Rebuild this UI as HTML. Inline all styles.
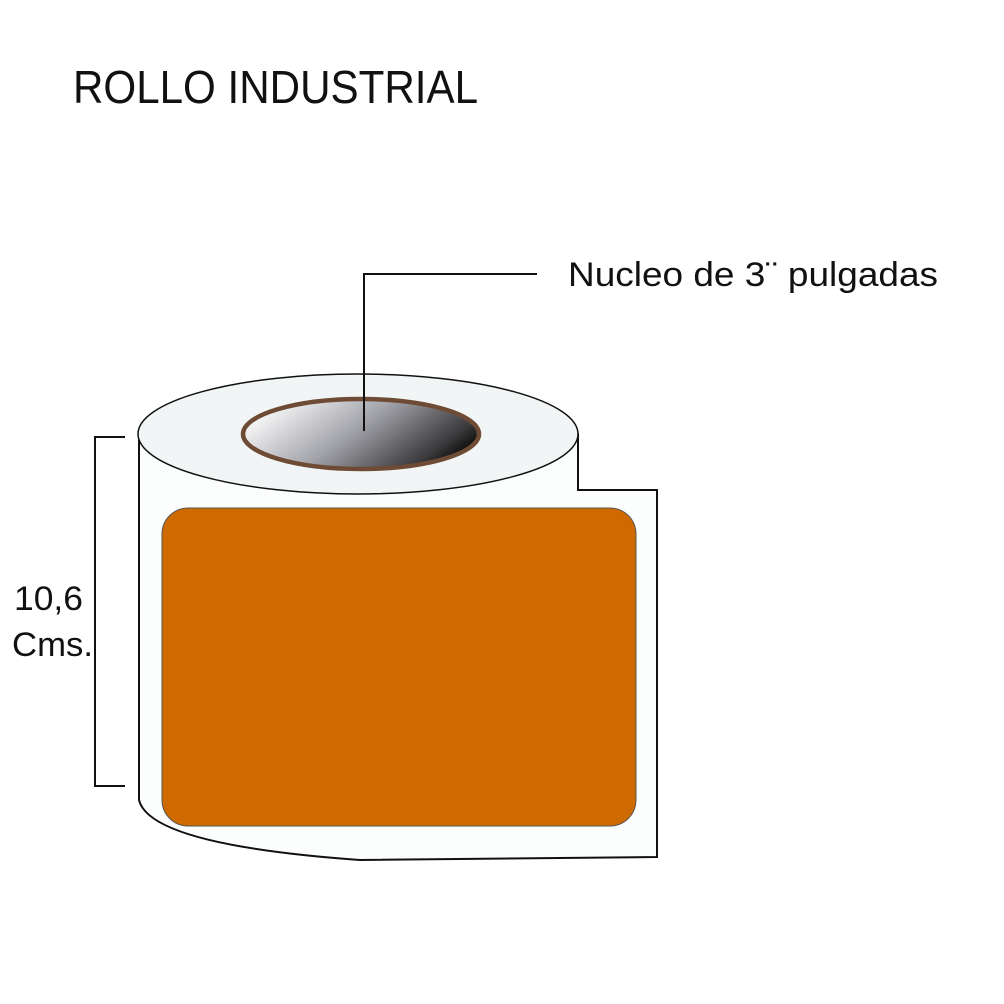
<!DOCTYPE html>
<html><head><meta charset="utf-8"><style>
html,body{margin:0;padding:0;background:#fff;}
svg{display:block;}
text{font-family:"Liberation Sans",sans-serif;fill:#111;}
</style></head><body>
<svg width="1004" height="1004" viewBox="0 0 1004 1004" xmlns="http://www.w3.org/2000/svg">
<defs>
<linearGradient id="g" x1="0" y1="0.3" x2="1" y2="0.7">
<stop offset="0" stop-color="#ffffff"/>
<stop offset="0.45" stop-color="#a3a4aa"/>
<stop offset="0.85" stop-color="#3a3a3c"/>
<stop offset="1" stop-color="#000"/>
</linearGradient>
</defs>
<text x="73" y="103" font-size="46" textLength="405" lengthAdjust="spacingAndGlyphs">ROLLO INDUSTRIAL</text>
<!-- body -->
<path d="M139 434 L139 800 Q150 845 360 860 L657 857 L657 490 L578 490 L578 434 Z" fill="#fcfdfd" stroke="#111" stroke-width="2"/>
<ellipse cx="358" cy="434" rx="220" ry="60" fill="#f2f5f5" stroke="#111" stroke-width="1.5"/>
<ellipse cx="361" cy="434" rx="118" ry="35" fill="url(#g)" stroke="#6e4b35" stroke-width="4.5"/>
<rect x="162" y="508" width="474" height="318" rx="26" fill="#cf6a00" stroke="#555" stroke-width="1"/>
<!-- leader -->
<polyline points="364,431 364,274 537,274" fill="none" stroke="#111" stroke-width="2"/>
<text x="568" y="286" font-size="34" textLength="370" lengthAdjust="spacingAndGlyphs">Nucleo de 3¨ pulgadas</text>
<!-- bracket -->
<polyline points="125,437 95,437 95,786 125,786" fill="none" stroke="#111" stroke-width="2"/>
<text x="14" y="610" font-size="34" textLength="69" lengthAdjust="spacingAndGlyphs">10,6</text>
<text x="12" y="656" font-size="34" textLength="81" lengthAdjust="spacingAndGlyphs">Cms.</text>
</svg>
</body></html>
